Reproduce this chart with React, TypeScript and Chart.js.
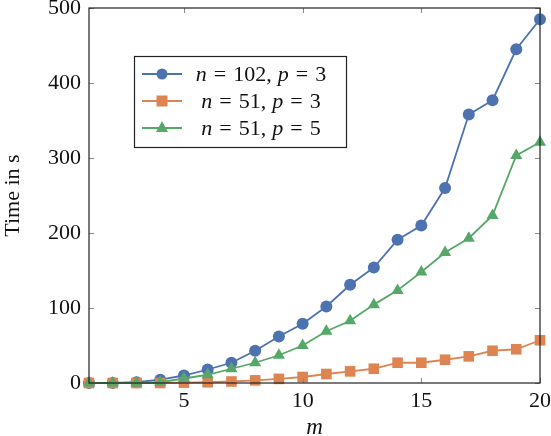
import React, { useEffect, useRef } from "react";
import { Chart, registerables } from "chart.js";

Chart.register(...registerables);

const mValues = [1, 2, 3, 4, 5, 6, 7, 8, 9, 10, 11, 12, 13, 14, 15, 16, 17, 18, 19, 20];
const series102p3 = [0, 0, 1, 4.5, 10, 18, 27, 43, 62, 79, 102, 131, 154, 191, 210, 260, 358, 377, 445, 485];
const series51p3 = [0, 0, 0, 0, 0.5, 1, 2, 3.5, 5.5, 8, 12, 15.5, 19, 27, 27, 31, 35.5, 43, 45, 57];
const series51p5 = [0, 0, 0, 1, 6, 11, 19, 27, 37, 50, 69, 83, 104.5, 123.5, 148, 174, 193, 223.5, 303.5, 321];
const xTicks = [5, 10, 15, 20];
const yTicks = [0, 100, 200, 300, 400, 500];
const legendN = ["102", "51", "51"];
const legendP = ["3", "3", "5"];

const BLUE = "#4C72B0";
const ORANGE = "#DD8452";
const GREEN = "#55A868";
const MATHFONT = "'Liberation Serif', 'DejaVu Serif', serif";

const styles = [
  { color: BLUE, point: "circle", r: 6 },
  { color: ORANGE, point: "rect", r: 7.5 },
  { color: GREEN, point: "triangle", r: 7 },
];

const frameAndLegend = {
  id: "frameAndLegend",
  afterDraw(chart: any) {
    const ctx = chart.ctx;
    const a = chart.chartArea;
    const xs = chart.scales.x;
    const ys = chart.scales.y;
    ctx.save();
    // inward ticks
    ctx.strokeStyle = "#8a8a8a";
    ctx.lineWidth = 1;
    const tl = 5;
    ctx.beginPath();
    for (const t of xTicks) {
      const px = Math.round(xs.getPixelForValue(t)) + 0.5;
      ctx.moveTo(px, a.bottom);
      ctx.lineTo(px, a.bottom - tl);
      ctx.moveTo(px, a.top);
      ctx.lineTo(px, a.top + tl);
    }
    for (const t of yTicks) {
      const py = Math.round(ys.getPixelForValue(t)) + 0.5;
      ctx.moveTo(a.left, py);
      ctx.lineTo(a.left + tl, py);
      ctx.moveTo(a.right, py);
      ctx.lineTo(a.right - tl, py);
    }
    ctx.stroke();
    // frame
    ctx.strokeStyle = "#222";
    ctx.lineWidth = 1.2;
    ctx.strokeRect(a.left, a.top, a.right - a.left, a.bottom - a.top);

    // legend
    const lx = 134, ly = 56, lw = 212, lh = 91;
    ctx.fillStyle = "#fff";
    ctx.fillRect(lx, ly, lw, lh);
    ctx.strokeStyle = "#222";
    ctx.lineWidth = 1.2;
    ctx.strokeRect(lx + 0.5, ly + 0.5, lw, lh);
    const rows = [74, 101, 128];
    rows.forEach((ry, i) => {
      const s = styles[i];
      ctx.strokeStyle = s.color;
      ctx.lineWidth = 1.8;
      ctx.beginPath();
      ctx.moveTo(142, ry);
      ctx.lineTo(182, ry);
      ctx.stroke();
      ctx.fillStyle = s.color;
      ctx.beginPath();
      if (s.point === "circle") {
        ctx.arc(162, ry, 5.5, 0, Math.PI * 2);
        ctx.fill();
      } else if (s.point === "rect") {
        ctx.fillRect(156.5, ry - 5.5, 11, 11);
      } else {
        ctx.moveTo(162, ry - 7);
        ctx.lineTo(168, ry + 4);
        ctx.lineTo(156, ry + 4);
        ctx.closePath();
        ctx.fill();
      }
      const it = "italic 22px " + MATHFONT;
      const up = "22px " + MATHFONT;
      const tokens: [string, string, number][] = [
        ["n", it, 7],
        ["=", up, 7],
        [legendN[i] + ",", up, 6],
        ["p", it, 7],
        ["=", up, 7],
        [legendP[i], up, 0],
      ];
      let total = 0;
      const widths = tokens.map(([t, f, g]) => {
        ctx.font = f;
        const w = ctx.measureText(t).width;
        total += w + g;
        return w;
      });
      let x = 261 - total / 2;
      ctx.fillStyle = "#111";
      ctx.textBaseline = "middle";
      ctx.textAlign = "left";
      tokens.forEach(([t, f, g], k) => {
        ctx.font = f;
        ctx.fillText(t, x, ry + 1);
        x += widths[k] + g;
      });
    });
    ctx.restore();
  },
};

export default function App() {
  const ref = useRef<HTMLCanvasElement | null>(null);
  useEffect(() => {
    document.body.style.margin = "0";
    const canvas = ref.current;
    if (!canvas) return;
    const mk = (data: number[], i: number) => ({
      data: mValues.map((m, k) => ({ x: m, y: data[k] })),
      borderColor: styles[i].color,
      backgroundColor: styles[i].color,
      pointBackgroundColor: styles[i].color,
      pointBorderColor: styles[i].color,
      pointStyle: styles[i].point,
      pointRadius: styles[i].r,
      pointBorderWidth: 0,
      borderWidth: 1.8,
      tension: 0,
      clip: false,
    });
    const chart = new Chart(canvas, {
      type: "line",
      data: {
        datasets: [
          { label: "n = 51, p = 5", ...mk(series51p5, 2) },
          { label: "n = 51, p = 3", ...mk(series51p3, 1) },
          { label: "n = 102, p = 3", ...mk(series102p3, 0) },
        ] as any,
      },
      options: {
        animation: false,
        responsive: false,
        layout: { padding: { top: 8, right: 11, left: 0, bottom: 0 } },
        plugins: { legend: { display: false }, tooltip: { enabled: false } },
        scales: {
          x: {
            type: "linear",
            min: 1,
            max: 20,
            grid: { display: false, drawTicks: false },
            border: { display: false },
            afterBuildTicks: (s: any) => {
              s.ticks = xTicks.map((v) => ({ value: v }));
            },
            afterFit: (s: any) => {
              s.height = 53;
              s.paddingLeft = 0;
              s.paddingRight = 0;
            },
            ticks: {
              font: { family: MATHFONT, size: 22 },
              color: "#111",
              padding: 5,
              maxRotation: 0,
            },
            title: {
              display: true,
              text: "m",
              font: { family: MATHFONT, size: 23, style: "italic", lineHeight: 1 },
              color: "#111",
              padding: { top: 0, bottom: -3 },
            },
          },
          y: {
            min: 0,
            max: 500,
            grid: { display: false, drawTicks: false },
            border: { display: false },
            afterBuildTicks: (s: any) => {
              s.ticks = yTicks.map((v) => ({ value: v }));
            },
            afterFit: (s: any) => {
              s.width = 89;
              s.paddingTop = 0;
              s.paddingBottom = 0;
            },
            ticks: {
              font: { family: MATHFONT, size: 22 },
              color: "#111",
              padding: 8,
            },
            title: {
              display: true,
              text: "Time in s",
              font: { family: MATHFONT, size: 22 },
              color: "#111",
              padding: { top: 0, bottom: 0 },
            },
          },
        },
      } as any,
      plugins: [frameAndLegend],
    });
    return () => chart.destroy();
  }, []);
  return (
    <div style={{ width: 551, height: 436 }}>
      <canvas ref={ref} width={551} height={436} style={{ display: "block" }} />
    </div>
  );
}
